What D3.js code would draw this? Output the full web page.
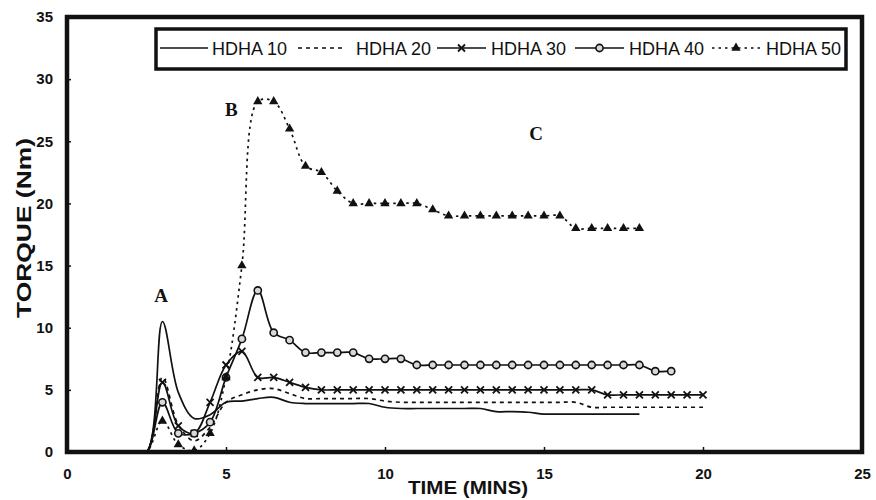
<!DOCTYPE html>
<html><head><meta charset="utf-8">
<script src="https://cdn.jsdelivr.net/npm/d3@7"></script>
<style>body{margin:0;background:#fff}svg{display:block}</style>
</head><body>
<svg id="c" width="876" height="500"></svg>
<script>
// ---- data ----
const timeMins = [0,0.5,1,1.5,2,2.5,3,3.5,4,4.5,5,5.5,6,6.5,7,7.5,8,8.5,9,9.5,10,10.5,11,11.5,12,12.5,13,13.5,14,14.5,15,15.5,16,16.5,17,17.5,18,18.5,19,19.5,20];
const hdha10 = [0,0,0,0,0,0,10.5,4.8,2.7,3.0,4.0,4.1,4.3,4.4,4.0,3.9,3.9,3.9,3.9,3.9,3.6,3.5,3.5,3.5,3.5,3.5,3.5,3.25,3.25,3.2,3.05,3.05,3.05,3.05,3.05,3.05,3.05];
const hdha20 = [0,0,0,0,0,0,6.0,2.2,0.9,2.0,4.0,4.6,5.0,5.1,4.7,4.3,4.3,4.3,4.3,4.3,4.1,4.0,4.0,4.0,4.0,4.0,4.0,4.0,4.0,4.0,4.0,4.0,4.0,3.6,3.6,3.6,3.6,3.6,3.6,3.6,3.6];
const hdha30 = [0,0,0,0,0,0,5.6,2.1,1.5,4.0,7.0,8.1,6.0,6.0,5.6,5.2,5.0,5.0,5.0,5.0,5.0,5.0,5.0,5.0,5.0,5.0,5.0,5.0,5.0,5.0,5.0,5.0,5.0,5.0,4.6,4.6,4.6,4.6,4.6,4.6,4.6];
const hdha40 = [0,0,0,0,0,0,4.0,1.5,1.5,2.4,6.0,9.1,13.0,9.6,9.0,8.0,8.0,8.0,8.0,7.5,7.5,7.5,7.0,7.0,7.0,7.0,7.0,7.0,7.0,7.0,7.0,7.0,7.0,7.0,7.0,7.0,7.0,6.5,6.5];
const hdha50 = [0,0,0,0,0,0,2.5,0.6,0.1,1.5,6.0,15.0,28.2,28.2,26.0,23.0,22.5,21.0,20.0,20.0,20.0,20.0,20.0,19.5,19.0,19.0,19.0,19.0,19.0,19.0,19.0,19.0,18.0,18.0,18.0,18.0,18.0];
const seriesNames = ["HDHA 10","HDHA 20","HDHA 30","HDHA 40","HDHA 50"];
const xTicks = [0,5,10,15,20,25];
const yTicks = [0,5,10,15,20,25,30,35];
const annotations = [{label:"A",t:2.96,v:12.1},{label:"B",t:5.17,v:27.0},{label:"C",t:14.75,v:25.1}];

// ---- chart ----
const svg = d3.select("#c");
const L=67,R=862,T=17,B=452;
const x = d3.scaleLinear().domain([0,25]).range([L,R]);
const y = d3.scaleLinear().domain([0,35]).range([B,T]);
const font = "'Liberation Sans', Arial, sans-serif";

svg.append("clipPath").attr("id","pa").append("rect")
  .attr("x",L).attr("y",T).attr("width",R-L).attr("height",B-T);

const series = [
  {name:seriesNames[0], vals:hdha10, dash:null, marker:null},
  {name:seriesNames[1], vals:hdha20, dash:"4,4", marker:null},
  {name:seriesNames[2], vals:hdha30, dash:null, marker:"x"},
  {name:seriesNames[3], vals:hdha40, dash:null, marker:"o"},
  {name:seriesNames[4], vals:hdha50, dash:"2.5,4", marker:"t"}
].map(s=>({...s, pts:s.vals.map((v,i)=>[timeMins[i],v])}));

const line = d3.line().x(d=>x(d[0])).y(d=>y(d[1])).curve(d3.curveCatmullRom.alpha(0.5));

const plot = svg.append("g").attr("clip-path","url(#pa)");

function drawMarker(g, type){
  if(type==="x"){
    g.append("path").attr("d","M-3.5,-3.5L3.5,3.5M-3.5,3.5L3.5,-3.5")
      .attr("stroke","#111").attr("stroke-width",1.8).attr("fill","none");
  } else if(type==="o"){
    g.append("circle").attr("r",3.6).attr("fill","#d8d8d8").attr("stroke","#111").attr("stroke-width",1.6);
  } else if(type==="t"){
    g.append("path").attr("d",d3.symbol(d3.symbolTriangle,38)()).attr("fill","#111");
  }
}

series.forEach(s=>{
  plot.append("path").datum(s.pts).attr("d",line)
    .attr("fill","none").attr("stroke","#111").attr("stroke-width",1.7)
    .attr("stroke-dasharray",s.dash);
  if(s.marker){
    s.pts.filter(d=>d[0]>=3).forEach(d=>{
      const g = plot.append("g").attr("transform",`translate(${x(d[0])},${y(d[1])})`);
      drawMarker(g,s.marker);
    });
  }
});

// axes
const ya = svg.append("g").attr("transform",`translate(${L},0)`)
  .call(d3.axisLeft(y).tickValues(yTicks).tickSizeInner(-4).tickSizeOuter(0).tickPadding(14).tickFormat(d3.format("d")));
ya.select(".domain").remove();
ya.selectAll("line").attr("stroke","#111").attr("stroke-width",1.5);
ya.selectAll("text").attr("font-family",font).attr("font-weight","bold").attr("font-size",15).attr("fill","#111");

const xa = svg.append("g").attr("transform",`translate(0,${B})`)
  .call(d3.axisBottom(x).tickValues(xTicks).tickSizeInner(-5).tickSizeOuter(0).tickPadding(16).tickFormat(d3.format("d")));
xa.select(".domain").remove();
xa.selectAll("line").attr("stroke","#111").attr("stroke-width",1.5);
xa.selectAll("text").attr("font-family",font).attr("font-weight","bold").attr("font-size",15).attr("fill","#111");

// frame
svg.append("rect").attr("x",L).attr("y",T).attr("width",R-L).attr("height",B-T)
  .attr("fill","none").attr("stroke","#111").attr("stroke-width",4.5);

// axis titles
svg.append("text").attr("transform","translate(31,228) rotate(-90)").attr("text-anchor","middle")
  .attr("font-family",font).attr("font-weight","bold").attr("font-size",20).attr("fill","#111")
  .attr("textLength",180).attr("lengthAdjust","spacingAndGlyphs").text("TORQUE (Nm)");
svg.append("text").attr("x",468).attr("y",494).attr("text-anchor","middle")
  .attr("font-family",font).attr("font-weight","bold").attr("font-size",18).attr("fill","#111")
  .attr("textLength",120).attr("lengthAdjust","spacingAndGlyphs").text("TIME (MINS)");

// annotations
annotations.forEach(a=>{
  svg.append("text").attr("x",x(a.t)).attr("y",y(a.v)).attr("text-anchor","middle")
    .attr("font-family","'Liberation Serif', 'DejaVu Serif', serif").attr("font-weight","bold")
    .attr("font-size",19).attr("fill","#111").text(a.label);
});

// legend
const lg = svg.append("g");
lg.append("rect").attr("x",156).attr("y",29).attr("width",690).attr("height",40)
  .attr("fill","#fff").attr("stroke","#111").attr("stroke-width",3.5);
const legendX = [[160,208,212],[298,346,356],[437,486,491],[575,624,629],[712,760,766]];
series.forEach((s,i)=>{
  const [x0,x1,tx] = legendX[i];
  const ly = 48;
  lg.append("line").attr("x1",x0).attr("x2",x1).attr("y1",ly).attr("y2",ly)
    .attr("stroke","#111").attr("stroke-width",1.7).attr("stroke-dasharray",s.dash);
  if(s.marker){
    const g = lg.append("g").attr("transform",`translate(${(x0+x1)/2},${ly})`);
    drawMarker(g,s.marker);
  }
  lg.append("text").attr("x",tx).attr("y",ly+6.5).attr("font-family",font).attr("font-size",18)
    .attr("textLength",75).attr("lengthAdjust","spacingAndGlyphs")
    .attr("fill","#111").text(s.name);
});
</script>
</body></html>
